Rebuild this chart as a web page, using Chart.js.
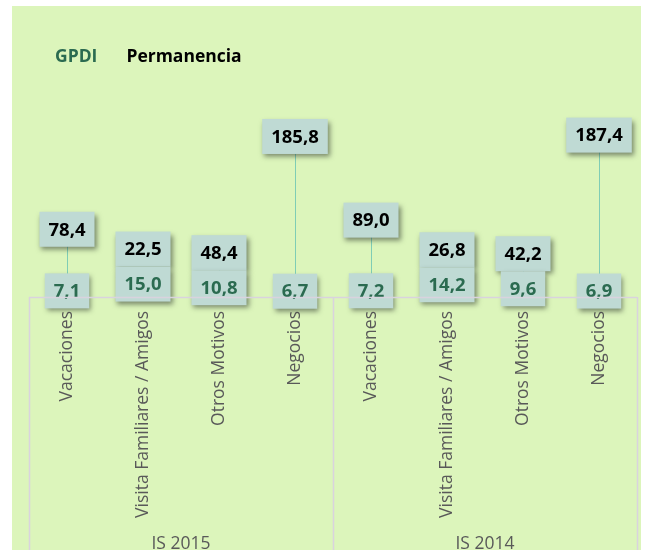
<!DOCTYPE html>
<html>
<head>
<meta charset="utf-8">
<script src="https://cdn.jsdelivr.net/npm/chart.js@4.4.1/dist/chart.umd.min.js"></script>
<style>
  html, body { margin: 0; padding: 0; background: #ffffff; }
  #wrap { width: 649px; height: 550px; }
</style>
</head>
<body>
<div id="wrap"><canvas id="chart" width="649" height="550"></canvas></div>
<script>
// Period groups and travel motives (two-level category axis)
const groups = ['IS 2015', 'IS 2014'];
const motivos = ['Vacaciones', 'Visita Familiares / Amigos', 'Otros Motivos', 'Negocios'];

// Series values, in the order IS 2015 (4 motives) then IS 2014 (4 motives)
const gpdi = [7.1, 15.0, 10.8, 6.7, 7.2, 14.2, 9.6, 6.9];
const permanencia = [78.4, 22.5, 48.4, 185.8, 89.0, 26.8, 42.2, 187.4];
const seriesNames = ['GPDI', 'Permanencia'];

const categoryLabels = groups.flatMap(() => motivos);

const COLORS = {
  panel: '#dcf5bb',
  axis: '#d9d3de',
  tick: '#595959',
  box: '#bfdad4',
  gpdi: '#2b6b50',
  perm: '#000000',
  hiLo: '#7fcdb5'
};
const FONT = '"Open Sans", "DejaVu Sans", sans-serif';

const fmt = v => v.toFixed(1).replace('.', ',');

// Light green panel behind everything
const panelPlugin = {
  id: 'panel',
  beforeDraw(chart) {
    const ctx = chart.ctx;
    ctx.save();
    ctx.fillStyle = COLORS.panel;
    ctx.fillRect(12, 6, 629, chart.height - 6);
    ctx.restore();
  }
};

// Series names drawn as coloured text, no swatches
const legendTextPlugin = {
  id: 'legendText',
  afterDraw(chart) {
    const ctx = chart.ctx;
    ctx.save();
    ctx.font = 'bold 17.5px ' + FONT;
    ctx.textBaseline = 'middle';
    ctx.textAlign = 'left';
    let x = 55;
    chart.data.datasets.forEach(ds => {
      ctx.fillStyle = ds.labelColor;
      ctx.fillText(ds.label, x, 57);
      x += ctx.measureText(ds.label).width + 29;
    });
    ctx.restore();
  }
};

// Group separators and group captions under the rotated motive labels
const groupAxisPlugin = {
  id: 'groupAxis',
  afterDraw(chart) {
    const ctx = chart.ctx;
    const xs = chart.scales.x;
    const area = chart.chartArea;
    const n = motivos.length;
    const step = (area.right - area.left) / categoryLabels.length;
    ctx.save();
    ctx.strokeStyle = COLORS.axis;
    ctx.lineWidth = 1.5;
    for (let g = 0; g <= groups.length; g++) {
      const x = Math.round(area.left + g * n * step) + 0.5;
      ctx.beginPath();
      ctx.moveTo(x, area.bottom);
      ctx.lineTo(x, chart.height);
      ctx.stroke();
    }
    ctx.beginPath();
    ctx.moveTo(area.left, Math.round(area.bottom) + 0.5);
    ctx.lineTo(area.right, Math.round(area.bottom) + 0.5);
    ctx.stroke();
    ctx.fillStyle = COLORS.tick;
    ctx.font = '17.5px ' + FONT;
    ctx.textAlign = 'center';
    ctx.textBaseline = 'alphabetic';
    groups.forEach((g, gi) => {
      const cx = (xs.getPixelForValue(gi * n) + xs.getPixelForValue(gi * n + n - 1)) / 2;
      ctx.fillText(g, cx, chart.height - 1);
    });
    ctx.restore();
  }
};

// High-low connectors and boxed value labels
const boxLabelPlugin = {
  id: 'boxLabels',
  afterDatasetsDraw(chart) {
    const ctx = chart.ctx;
    const xs = chart.scales.x, ys = chart.scales.y;
    const low = chart.data.datasets[0], high = chart.data.datasets[1];
    const H = 35, PADX = 9;
    ctx.save();
    ctx.font = 'bold 18.5px ' + FONT;
    ctx.textAlign = 'center';
    ctx.textBaseline = 'middle';

    const boxes = [];
    low.data.forEach((v, i) => {
      const x = xs.getPixelForValue(i);
      const yL = ys.getPixelForValue(v);
      const yH = ys.getPixelForValue(high.data[i]);
      const tL = fmt(v), tH = fmt(high.data[i]);
      const wL = ctx.measureText(tL).width + 2 * PADX;
      const wH = ctx.measureText(tH).width + 2 * PADX;
      let cyH = yH;
      const lowTop = yL - H / 2;
      if (cyH + H / 2 > lowTop) cyH = lowTop - H / 2;

      // connector between the two series values
      ctx.strokeStyle = high.hiLoColor;
      ctx.lineWidth = 1;
      ctx.beginPath();
      ctx.moveTo(Math.round(x) + 0.5, yH);
      ctx.lineTo(Math.round(x) + 0.5, yL);
      ctx.stroke();

      boxes.push({ x, cy: cyH, w: wH, text: tH, color: high.labelColor });
      boxes.push({ x, cy: yL, w: wL, text: tL, color: low.labelColor });
    });

    boxes.forEach(b => {
      ctx.save();
      ctx.shadowColor = 'rgba(40,50,40,0.55)';
      ctx.shadowBlur = 5;
      ctx.shadowOffsetX = 2;
      ctx.shadowOffsetY = 3;
      ctx.fillStyle = COLORS.box;
      ctx.fillRect(b.x - b.w / 2, b.cy - H / 2, b.w, H);
      ctx.restore();
      ctx.fillStyle = b.color;
      ctx.fillText(b.text, b.x, b.cy + 1);
    });
    ctx.restore();
  }
};

new Chart(document.getElementById('chart'), {
  type: 'line',
  data: {
    labels: categoryLabels,
    datasets: [
      {
        label: seriesNames[0],
        data: gpdi,
        showLine: false,
        pointRadius: 0,
        borderColor: COLORS.gpdi,
        labelColor: COLORS.gpdi
      },
      {
        label: seriesNames[1],
        data: permanencia,
        showLine: false,
        pointRadius: 0,
        borderColor: COLORS.perm,
        labelColor: COLORS.perm,
        hiLoColor: COLORS.hiLo
      }
    ]
  },
  options: {
    responsive: false,
    animation: false,
    devicePixelRatio: 1,
    layout: { padding: { left: 29, right: 12, top: 81, bottom: 0 } },
    plugins: {
      legend: { display: false },
      tooltip: { enabled: false }
    },
    scales: {
      x: {
        type: 'category',
        offset: true,
        grid: { display: false },
        border: { display: false },
        ticks: {
          autoSkip: false,
          minRotation: 90,
          maxRotation: 90,
          padding: 6,
          color: COLORS.tick,
          font: { family: FONT, size: 17.5 }
        },
        afterFit(scale) { scale.height = 253; }
      },
      y: {
        display: false,
        min: 0,
        max: 250
      }
    }
  },
  plugins: [panelPlugin, groupAxisPlugin, boxLabelPlugin, legendTextPlugin]
});
</script>
</body>
</html>
